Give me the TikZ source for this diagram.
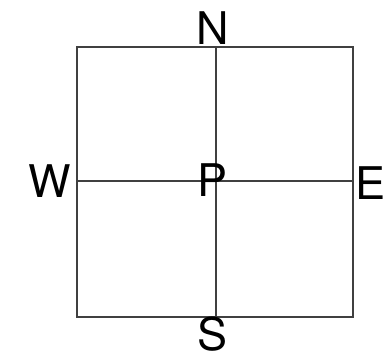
\documentclass[tikz,border=0pt]{standalone}
\usepackage{fontspec}
\setmainfont{TeX Gyre Heros}
\usetikzlibrary{positioning}

\begin{document}
\begin{tikzpicture}[x=0.025cm,y=-0.025cm,
  lbl/.style={font=\fontsize{32}{32}\selectfont,inner sep=0pt,anchor=center},
  edge/.style={line width=0.9pt,draw=black!75}]

\useasboundingbox (0,0) rectangle (385,358);

% outer square and its mid points
\coordinate (nw) at (77,47);
\coordinate (se) at (353,317);
\coordinate (top) at (216,47);
\coordinate (bot) at (216,317);
\coordinate (lft) at (77,181);
\coordinate (rgt) at (353,181);

\draw[edge] (nw) rectangle (se);
\draw[edge] (top) -- (bot);
\draw[edge] (lft) -- (rgt);

% compass labels
\node[lbl] (N) at (213,28) {N};
\node[lbl] (S) at (213,334) {S};
\node[lbl] (W) at (50,181) {W};
\node[lbl,anchor=west] (E) at (355,183) {E};
\node[lbl] (P) at (213,180) {P};
\end{tikzpicture}
\end{document}
